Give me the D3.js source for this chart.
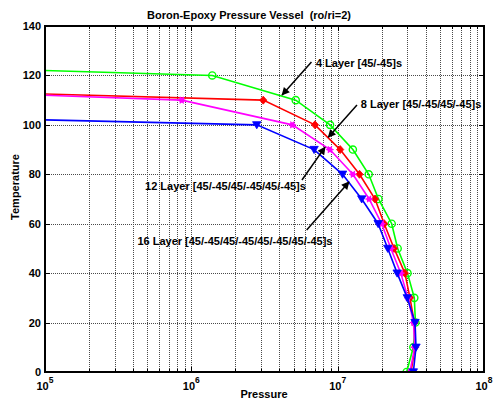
<!DOCTYPE html>
<html>
<head>
<meta charset="utf-8">
<script src="https://cdn.jsdelivr.net/npm/d3@7"></script>
<style>
  body { margin: 0; background: #fff; }
  svg { display: block; font-family: "Liberation Sans", Arial, sans-serif; }
</style>
</head>
<body>
<svg id="chart" width="493" height="401"></svg>
<script>
// Failure envelopes: temperature vs. burst pressure for each laminate lay-up
const pressure4  = [1e4, 1.39e6, 5.17e6, 8.87e6, 1.27e7, 1.63e7, 1.9e7, 2.34e7, 2.57e7, 3.0e7, 3.34e7, 3.4e7, 3.29e7, 2.96e7];
const temp4      = [123.7, 120, 110, 100, 90, 80, 70, 60, 50, 40, 30, 20, 10, 0];

const pressure8  = [1e4, 3.1e6, 7.0e6, 1.04e7, 1.41e7, 1.8e7, 2.08e7, 2.43e7, 2.88e7, 3.12e7, 3.34e7, 3.38e7, 3.17e7];
const temp8      = [114.2, 110, 100, 90, 80, 70, 60, 50, 40, 30, 20, 10, 0];

const pressure12 = [1e4, 8.6e5, 4.9e6, 8.85e6, 1.27e7, 1.64e7, 2.0e7, 2.31e7, 2.7e7, 3.02e7, 3.3e7, 3.36e7, 3.12e7];
const temp12     = [114.1, 110, 100, 90, 80, 70, 60, 50, 40, 30, 20, 10, 0];

const pressure16 = [1e4, 2.8e6, 6.9e6, 1.08e7, 1.46e7, 1.89e7, 2.2e7, 2.55e7, 2.99e7, 3.38e7, 3.43e7, 3.29e7];
const temp16     = [103.4, 100, 90, 80, 70, 60, 50, 40, 30, 20, 10, 0];

const yTicks = [0, 20, 40, 60, 80, 100, 120, 140];
const xMajorTicks = [1e5, 1e6, 1e7, 1e8];
const xTickExponents = ["5", "6", "7", "8"];

// Annotation labels with arrows (anchored in data units)
const labelTexts = [
  "4 Layer [45/-45]s",
  "8 Layer [45/-45/45/-45]s",
  "12 Layer [45/-45/45/-45/45/-45]s",
  "16 Layer [45/-45/45/-45/45/-45/45/-45]s"
];
const labelAt    = [[7.1e6, 123.6], [1.44e7, 106.9], [4.83e5, 73.6], [4.28e5, 51.5]];
const arrowFrom  = [[6.62e6, 125.4], [1.355e7, 108.0], [5.7e6, 77.7], [6.14e6, 57.5]];
const arrowTo    = [[4.17e6, 112.1], [8.63e6, 95.0], [8.2e6, 91.0], [1.195e7, 76.9]];

const svg = d3.select("#chart");
const plotLeft = 45, plotRight = 484, plotTop = 26, plotBottom = 372;

const x = d3.scaleLog().domain([1e5, 1e8]).range([plotLeft, plotRight]);
const y = d3.scaleLinear().domain([0, 140]).range([plotBottom, plotTop]);

const defs = svg.append("defs");
defs.append("clipPath").attr("id", "plotClip")
  .append("rect").attr("x", plotLeft).attr("y", plotTop)
  .attr("width", plotRight - plotLeft).attr("height", plotBottom - plotTop);

defs.append("marker")
  .attr("id", "arrowHead").attr("viewBox", "0 0 10 10")
  .attr("refX", 9).attr("refY", 5)
  .attr("markerWidth", 10).attr("markerHeight", 8)
  .attr("markerUnits", "userSpaceOnUse")
  .attr("orient", "auto")
  .append("path").attr("d", "M0,0 L10,5 L0,10 Z").attr("fill", "#000");

// grid
const minorTicks = [];
for (let e = 5; e < 8; e++) for (let m = 1; m <= 9; m++) minorTicks.push(m * Math.pow(10, e));
minorTicks.push(1e8);

const grid = svg.append("g").attr("stroke", "#4a4a4a").attr("stroke-width", 1)
  .attr("stroke-dasharray", "1,1").attr("shape-rendering", "crispEdges");
grid.selectAll("line.v").data(minorTicks.filter(d => d > 1e5 && d < 1e8)).enter()
  .append("line").attr("class", "v")
  .attr("x1", d => Math.round(x(d)) + 0.5).attr("x2", d => Math.round(x(d)) + 0.5)
  .attr("y1", plotTop).attr("y2", plotBottom);
grid.selectAll("line.h").data(yTicks.filter(d => d > 0 && d < 140)).enter()
  .append("line").attr("class", "h")
  .attr("y1", d => Math.round(y(d)) + 0.5).attr("y2", d => Math.round(y(d)) + 0.5)
  .attr("x1", plotLeft).attr("x2", plotRight);

// tick marks (inward, on all four sides)
const ticks = svg.append("g").attr("stroke", "#000").attr("stroke-width", 1).attr("shape-rendering", "crispEdges");
minorTicks.forEach(d => {
  const len = xMajorTicks.includes(d) ? 5 : 3;
  const px = Math.round(x(d)) + 0.5;
  ticks.append("line").attr("x1", px).attr("x2", px).attr("y1", plotBottom).attr("y2", plotBottom - len);
  ticks.append("line").attr("x1", px).attr("x2", px).attr("y1", plotTop).attr("y2", plotTop + len);
});
yTicks.forEach(d => {
  const py = Math.round(y(d)) + 0.5;
  ticks.append("line").attr("x1", plotLeft).attr("x2", plotLeft + 5).attr("y1", py).attr("y2", py);
  ticks.append("line").attr("x1", plotRight).attr("x2", plotRight - 5).attr("y1", py).attr("y2", py);
});

// series
const series = [
  { p: pressure4,  t: temp4,  color: "#00ff00", marker: "circle" },
  { p: pressure8,  t: temp8,  color: "#ff0000", marker: "diamond" },
  { p: pressure12, t: temp12, color: "#ff00ff", marker: "star" },
  { p: pressure16, t: temp16, color: "#0000ff", marker: "triangle" }
];

const plot = svg.append("g").attr("clip-path", "url(#plotClip)");
const line = d3.line().x(d => x(d[0])).y(d => y(d[1]));

series.forEach(s => {
  const pts = s.p.map((p, i) => [p, s.t[i]]);
  plot.append("path").datum(pts).attr("d", line)
    .attr("fill", "none").attr("stroke", s.color).attr("stroke-width", 1.6);
  const g = plot.append("g");
  pts.forEach(d => {
    const cx = x(d[0]), cy = y(d[1]);
    if (s.marker === "circle") {
      g.append("circle").attr("cx", cx).attr("cy", cy).attr("r", 3.6)
        .attr("fill", "none").attr("stroke", s.color).attr("stroke-width", 1.4);
    } else if (s.marker === "diamond") {
      g.append("path").attr("d", `M${cx},${cy - 4}L${cx + 3.6},${cy}L${cx},${cy + 4}L${cx - 3.6},${cy}Z`)
        .attr("fill", s.color).attr("stroke", s.color).attr("stroke-width", 0.8);
    } else if (s.marker === "star") {
      g.append("circle").attr("cx", cx).attr("cy", cy).attr("r", 2.6).attr("fill", s.color);
      [0, 60, 120].forEach(a => {
        const r = 3.8, rad = a * Math.PI / 180;
        g.append("line")
          .attr("x1", cx - r * Math.cos(rad)).attr("y1", cy - r * Math.sin(rad))
          .attr("x2", cx + r * Math.cos(rad)).attr("y2", cy + r * Math.sin(rad))
          .attr("stroke", s.color).attr("stroke-width", 1.2);
      });
    } else {
      g.append("path").attr("d", `M${cx - 4.2},${cy - 3.2}L${cx + 4.2},${cy - 3.2}L${cx},${cy + 4}Z`)
        .attr("fill", s.color).attr("stroke", s.color).attr("stroke-width", 0.8);
    }
  });
});

// axes box
svg.append("rect").attr("x", plotLeft).attr("y", plotTop)
  .attr("width", plotRight - plotLeft).attr("height", plotBottom - plotTop)
  .attr("fill", "none").attr("stroke", "#000").attr("stroke-width", 2);

// y tick labels
svg.append("g").selectAll("text").data(yTicks).enter().append("text")
  .attr("x", plotLeft - 4).attr("y", d => y(d) + 4)
  .attr("text-anchor", "end").attr("font-size", 11).attr("font-weight", "bold")
  .text(d => d);

// x tick labels: 10 with exponent
xMajorTicks.forEach((d, i) => {
  const t = svg.append("text").attr("x", x(d)).attr("y", 390)
    .attr("text-anchor", "middle").attr("font-size", 11).attr("font-weight", "bold");
  t.append("tspan").text("10");
  t.append("tspan").attr("dy", -7).attr("font-size", 8.5).text(xTickExponents[i]);
});

// titles
svg.append("text").attr("x", 249).attr("y", 19).attr("text-anchor", "middle")
  .attr("font-size", 11).attr("font-weight", "bold")
  .attr("xml:space", "preserve")
  .text("Boron-Epoxy Pressure Vessel  (ro/ri=2)");
svg.append("text").attr("x", 264).attr("y", 398).attr("text-anchor", "middle")
  .attr("font-size", 11).attr("font-weight", "bold").text("Pressure");
svg.append("text").attr("transform", "translate(19,187) rotate(-90)")
  .attr("text-anchor", "middle").attr("font-size", 11).attr("font-weight", "bold")
  .text("Temperature");

// annotations
labelTexts.forEach((txt, i) => {
  svg.append("line")
    .attr("x1", x(arrowFrom[i][0])).attr("y1", y(arrowFrom[i][1]))
    .attr("x2", x(arrowTo[i][0])).attr("y2", y(arrowTo[i][1]))
    .attr("stroke", "#000").attr("stroke-width", 1.5)
    .attr("marker-end", "url(#arrowHead)");
  svg.append("text").attr("x", x(labelAt[i][0])).attr("y", y(labelAt[i][1]))
    .attr("font-size", 11).attr("font-weight", "bold").text(txt);
});
</script>
</body>
</html>
